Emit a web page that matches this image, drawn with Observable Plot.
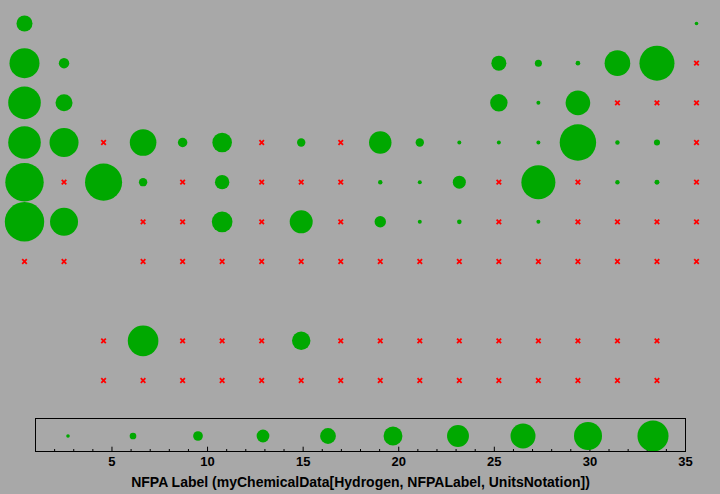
<!DOCTYPE html>
<html>
<head>
<meta charset="utf-8">
<script src="https://cdn.jsdelivr.net/npm/d3@7"></script>
<script src="https://cdn.jsdelivr.net/npm/@observablehq/plot@0.6"></script>
<style>
  html, body { margin: 0; padding: 0; background: #a8a8a8; }
  #chart { width: 720px; height: 494px; overflow: hidden; }
  #chart svg { display: block; }
</style>
</head>
<body>
<div id="chart"></div>
<script>
// "" = empty cell, "x" = missing value (red cross), number = value
const period1 = [16.5, "", "", "", "", "", "", "", "", "", "", "", "", "", "", "", "", 2.7];
const period2 = [32.1, 10.3, "", "", "", "", "", "", "", "", "", "", 15.4, 6.5, 3.8, 27.2, 37.7, "x"];
const period3 = [35.0, 17.6, "", "", "", "", "", "", "", "", "", "", 18.1, 3.1, 26.1, "x", "x", "x"];
const period4 = [35.0, 31.0, "x", 28.3, 9.2, 20.5, "x", 8.0, "x", 23.7, 8.0, 3.1, 3.1, 3.1, 39.3, 3.6, 5.4, "x"];
const period5 = [41.5, "x", 40.0, 8.0, "x", 14.7, "x", "x", "x", 3.6, 3.1, 13.2, "x", 36.6, "x", 3.6, 4.2, "x"];
const period6 = [42.6, 29.9, "", "x", "x", 21.7, "x", 24.3, "x", 11.4, 3.1, 3.8, "x", 3.1, "x", "x", "x", "x"];
const period7 = ["x", "x", "", "x", "x", "x", "x", "x", "x", "x", "x", "x", "x", "x", "x", "x", "x", "x"];
const lanthanides = ["", "", "x", 32.8, "x", "x", "x", 19.2, "x", "x", "x", "x", "x", "x", "x", "x", "x", ""];
const actinides = ["", "", "x", "x", "x", "x", "x", "x", "x", "x", "x", "x", "x", "x", "x", "x", "x", ""];
const tableRows = [period1, period2, period3, period4, period5, period6, period7, [], lanthanides, actinides];

const legendValues = [2.7, 6.1, 9.5, 12.9, 16.3, 19.7, 23.1, 26.5, 29.9, 33.3];
const axisTicks = [5, 10, 15, 20, 25, 30, 35];
const minorTicks = d3.range(2, 35).filter(d => d % 5 !== 0);
const majorTicks = axisTicks.filter(d => d < 35);
const axisLabel = "NFPA Label (myChemicalData[Hydrogen, NFPALabel, UnitsNotation])";

const cells = [];
tableRows.forEach((row, i) => row.forEach((v, j) => {
  if (v !== "") cells.push({row: i + 1, col: j + 1, value: v === "x" ? null : v});
}));
const present = cells.filter(d => d.value != null);
const missing = cells.filter(d => d.value == null);

const green = "#00a800";
const rScale = {type: "linear", domain: [0, 35], range: [0.6, 16.3]};
const fontStyle = {fontFamily: "'Liberation Sans', Arial, sans-serif", background: "transparent", overflow: "visible"};

const main = Plot.plot({
  width: 720, height: 412,
  marginTop: 0, marginBottom: 0, marginLeft: 0, marginRight: 0,
  style: fontStyle,
  x: {type: "linear", domain: [1, 18], range: [24, 696], axis: null},
  y: {type: "linear", domain: [1, 10], range: [23, 380], axis: null},
  r: rScale,
  marks: [
    Plot.dot(present, {x: "col", y: "row", r: "value", fill: green}),
    Plot.dot(missing, {x: "col", y: "row", r: 2.2, symbol: "times", stroke: "#ff0000", strokeWidth: 1.8})
  ]
});

const legend = Plot.plot({
  width: 720, height: 82,
  marginTop: 6, marginBottom: 43, marginLeft: 35, marginRight: 35,
  style: {...fontStyle, fontSize: "13px", fontWeight: "bold", color: "#000"},
  x: {type: "linear", domain: [1, 35]},
  r: rScale,
  marks: [
    Plot.ruleX(minorTicks, {stroke: "#000", strokeWidth: 1, insetTop: 31}),
    Plot.ruleX(majorTicks, {stroke: "#000", strokeWidth: 1, insetTop: 28.7}),
    Plot.dot(legendValues, {x: d => d, r: d => d, fill: green, dy: 1}),
    Plot.frame({stroke: "#000", strokeWidth: 1}),
    Plot.axisX({ticks: axisTicks, tickSize: 0, tickPadding: 5, label: null, fill: "#000", fontSize: 13, fontWeight: "bold"}),
    Plot.text([axisLabel], {frameAnchor: "bottom", text: d => d, dy: 31, fontSize: 14, fontWeight: "bold", fill: "#000", lineAnchor: "middle"})
  ]
});

document.getElementById("chart").append(main, legend);
</script>
</body>
</html>
